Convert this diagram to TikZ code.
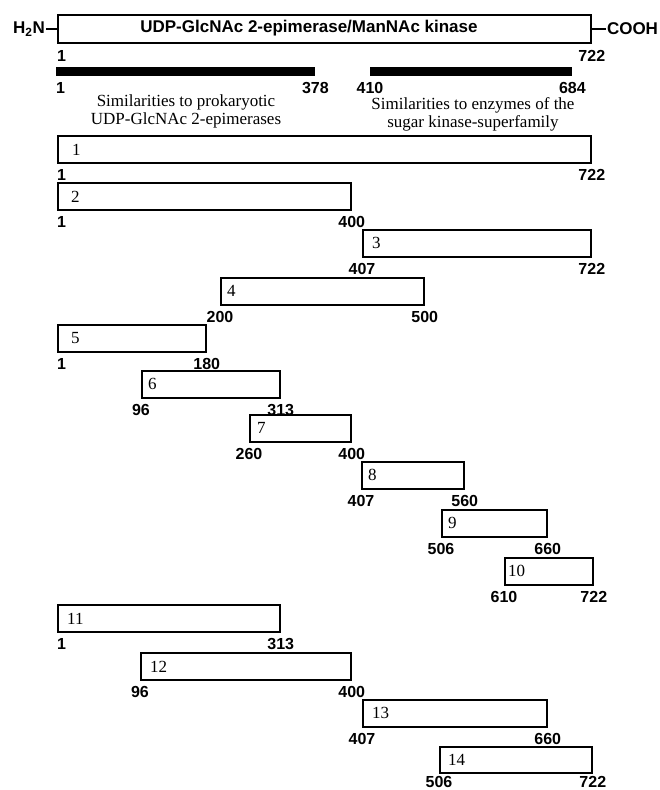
\documentclass[tikz,border=0pt]{standalone}
\usepackage{fontspec}
\setmainfont{Liberation Serif}
\setsansfont{Liberation Sans}
\usetikzlibrary{positioning}

\begin{document}
\begin{tikzpicture}[x=1pt, y=1pt,
  frag/.style={draw, line width=1.8pt, minimum height=27pt, inner sep=0pt, anchor=north west},
  simbar/.style={fill=black, minimum height=9pt, inner sep=0pt, anchor=north west},
  num/.style={font=\fontsize{17}{17}\selectfont, inner sep=0pt},
  res/.style={font=\sffamily\bfseries\fontsize{16}{16}\selectfont, inner sep=0pt},
  head/.style={font=\sffamily\bfseries\fontsize{17}{17}\selectfont, inner sep=1pt},
  note/.style={font=\fontsize{17}{18}\selectfont, align=center}]
\useasboundingbox (0,0) rectangle (660,-790);

% full length enzyme
\node[frag, minimum width=533pt, minimum height=28pt] (enz) at (57,-14) {};
\node[head] (name) at (309,-28) {UDP-GlcNAc 2-epimerase/ManNAc kinase};
\node[head, left=11pt of enz.west] (nterm) {H\textsubscript{2}N};
\node[head, right=14pt of enz.east] (cterm) {COOH};
\draw[line width=1.4pt] (nterm.east) -- (enz.west);
\draw[line width=1.4pt] (enz.east) -- (cterm.west);
\node[res, below right=6pt and 0pt of enz.south west] (enzs) {1};
\node[res, below=6pt of enz.south east] (enze) {722};

% similarity regions
\node[simbar, minimum width=259pt] (epi) at (56,-67) {};
\node[simbar, minimum width=202pt] (kin) at (370,-67) {};
\node[res, below right=6pt and 0pt of epi.south west] (epis) {1};
\node[res, below=6pt of epi.south east] (epie) {378};
\node[res, below=6pt of kin.south west] (kins) {410};
\node[res, below=6pt of kin.south east] (kine) {684};
\node[note] (epinote) at (186,-111) {Similarities to prokaryotic\\UDP-GlcNAc 2-epimerases};
\node[note] (kinnote) at (473,-114) {Similarities to enzymes of the\\sugar kinase-superfamily};

% fragments
\node[frag, minimum width=533pt] (f1) at (57,-135) {};
\node[num, right=15pt of f1.west] (n1) {1};
\node[res, below right=5pt and 0pt of f1.south west] (s1) {1};
\node[res, below=5pt of f1.south east] (e1) {722};

\node[frag, minimum width=293pt] (f2) at (57,-182) {};
\node[num, right=14pt of f2.west] (n2) {2};
\node[res, below right=5pt and 0pt of f2.south west] (s2) {1};
\node[res, below=5pt of f2.south east] (e2) {400};

\node[frag, minimum width=228pt] (f3) at (362,-229) {};
\node[num, right=10pt of f3.west] (n3) {3};
\node[res, below=5pt of f3.south west] (s3) {407};
\node[res, below=5pt of f3.south east] (e3) {722};

\node[frag, minimum width=203pt] (f4) at (220,-277) {};
\node[num, right=7pt of f4.west] (n4) {4};
\node[res, below=5pt of f4.south west] (s4) {200};
\node[res, below=5pt of f4.south east] (e4) {500};

\node[frag, minimum width=148pt] (f5) at (57,-324) {};
\node[num, right=14pt of f5.west] (n5) {5};
\node[res, below right=5pt and 0pt of f5.south west] (s5) {1};
\node[res, below=5pt of f5.south east] (e5) {180};

\node[frag, minimum width=138pt] (f6) at (141,-370) {};
\node[num, right=7pt of f6.west] (n6) {6};
\node[res, below=5pt of f6.south west] (s6) {96};
\node[res, below=5pt of f6.south east] (e6) {313};

\node[frag, minimum width=101pt] (f7) at (249,-414) {};
\node[num, right=8pt of f7.west] (n7) {7};
\node[res, below=5pt of f7.south west] (s7) {260};
\node[res, below=5pt of f7.south east] (e7) {400};

\node[frag, minimum width=102pt] (f8) at (361,-461) {};
\node[num, right=7pt of f8.west] (n8) {8};
\node[res, below=5pt of f8.south west] (s8) {407};
\node[res, below=5pt of f8.south east] (e8) {560};

\node[frag, minimum width=105pt] (f9) at (441,-509) {};
\node[num, right=7pt of f9.west] (n9) {9};
\node[res, below=5pt of f9.south west] (s9) {506};
\node[res, below=5pt of f9.south east] (e9) {660};

\node[frag, minimum width=88pt] (f10) at (504,-557) {};
\node[num, right=4pt of f10.west] (n10) {10};
\node[res, below=5pt of f10.south west] (s10) {610};
\node[res, below=5pt of f10.south east] (e10) {722};

\node[frag, minimum width=222pt] (f11) at (57,-604) {};
\node[num, right=10pt of f11.west] (n11) {11};
\node[res, below right=5pt and 0pt of f11.south west] (s11) {1};
\node[res, below=5pt of f11.south east] (e11) {313};

\node[frag, minimum width=210pt] (f12) at (140,-652) {};
\node[num, right=10pt of f12.west] (n12) {12};
\node[res, below=5pt of f12.south west] (s12) {96};
\node[res, below=5pt of f12.south east] (e12) {400};

\node[frag, minimum width=184pt] (f13) at (362,-699) {};
\node[num, right=10pt of f13.west] (n13) {13};
\node[res, below=5pt of f13.south west] (s13) {407};
\node[res, below=5pt of f13.south east] (e13) {660};

\node[frag, minimum width=152pt, minimum height=26pt] (f14) at (439,-746) {};
\node[num, right=9pt of f14.west] (n14) {14};
\node[res, below=2pt of f14.south west] (s14) {506};
\node[res, below=2pt of f14.south east] (e14) {722};
\end{tikzpicture}
\end{document}
